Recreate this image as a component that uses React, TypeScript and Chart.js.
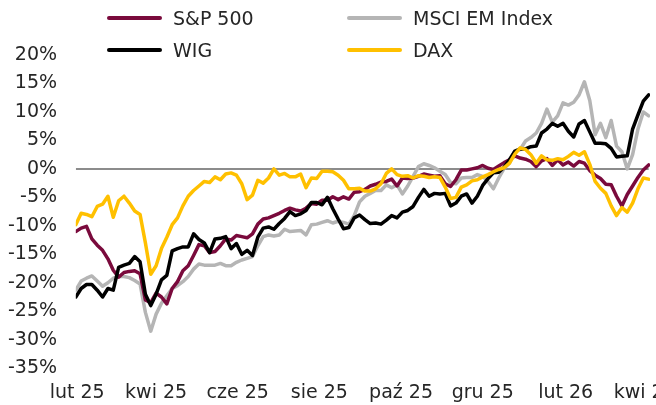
import React, { useEffect, useRef } from 'react';
import { Chart, registerables } from 'chart.js';

Chart.register(...registerables);

// Days since 1 Feb 2025 (sampling of the daily series)
const dayOffsets = [
  -1, 3, 7, 11, 15, 19, 23, 27, 31, 35, 39, 43, 47, 51, 55, 59, 63, 67, 71, 75,
  79, 83, 87, 91, 95, 99, 103, 107, 111, 115, 119, 123, 127, 131, 135, 139, 143, 147, 151, 155,
  159, 163, 167, 171, 175, 179, 183, 187, 191, 195, 199, 203, 207, 211, 215, 219, 223, 227, 231, 235,
  239, 243, 247, 251, 255, 259, 263, 267, 271, 275, 279, 283, 287, 291, 295, 299, 303, 307, 311, 315,
  319, 323, 327, 331, 335, 339, 343, 347, 351, 355, 359, 363, 367, 371, 375, 379, 383, 387, 391, 395,
  399, 403, 407, 411, 415, 419, 423, 427,
];

const sp500 = [
  -11.0, -10.4, -10.1, -12.3, -13.4, -14.3, -15.8, -17.8, -19.0, -18.2,
  -18.0, -17.9, -18.4, -23.0, -23.5, -21.8, -22.5, -23.7, -21.0, -19.8,
  -17.9, -17.0, -15.2, -13.3, -13.5, -14.7, -14.5, -13.5, -12.3, -12.5,
  -11.7, -11.9, -12.1, -11.4, -9.7, -8.8, -8.6, -8.2, -7.8, -7.3,
  -6.9, -7.2, -7.4, -6.9, -6.1, -6.2, -5.5, -5.5, -4.9, -5.4,
  -4.9, -5.3, -4.1, -4.0, -3.6, -3.0, -2.7, -2.3, -2.2, -1.8,
  -3.0, -1.6, -1.7, -1.6, -1.3, -0.9, -1.1, -1.3, -1.2, -2.6,
  -3.1, -1.9, -0.2, -0.2, 0.0, 0.2, 0.6, 0.1, -0.1, 0.5,
  1.1, 1.6, 2.3, 1.9, 1.7, 1.3, 0.4, 1.4, 1.8, 0.6,
  1.6, 0.7, 1.2, 0.5, 1.3, 1.0, -0.3, -1.1, -1.7, -2.7,
  -2.8, -4.8, -6.5, -4.5, -3.0, -1.5, -0.2, 0.7,
];

const msciEm = [
  -21.3, -19.7, -19.2, -18.8, -19.7, -20.6, -20.0, -19.2, -18.9, -18.9,
  -19.1, -19.6, -20.2, -25.2, -28.5, -25.5, -23.6, -22.3, -21.0, -20.5,
  -19.8, -18.9, -17.6, -16.7, -16.9, -16.9, -16.9, -16.6, -17.0, -17.0,
  -16.4, -16.0, -15.7, -15.4, -13.5, -11.9, -11.6, -11.8, -11.6, -10.6,
  -11.0, -10.9, -10.8, -11.6, -9.8, -9.7, -9.4, -9.1, -9.5, -9.2,
  -9.4, -9.7, -8.2, -5.8, -4.8, -4.3, -3.8, -3.8, -2.8, -3.3,
  -2.8, -4.4, -3.0, -1.3, 0.4, 0.9, 0.6, 0.2, -0.4, -1.0,
  -2.4, -2.6, -1.6, -1.5, -1.5, -1.0, -1.3, -2.2, -3.5, -1.6,
  0.1, 1.0, 3.2, 3.4, 4.9, 5.5, 6.3, 8.0, 10.5, 8.2,
  9.3, 11.6, 11.2, 11.7, 13.0, 15.3, 12.0, 6.0, 8.0, 5.5,
  8.5, 4.0, 3.0, 0.0, 2.5, 7.0, 10.0, 9.3,
];

const wig = [
  -22.5, -21.0, -20.3, -20.3, -21.3, -22.5, -21.0, -21.3, -17.3, -16.9,
  -16.6, -15.4, -16.3, -22.0, -24.0, -22.0, -19.5, -18.7, -14.4, -14.0,
  -13.7, -13.7, -11.4, -12.4, -13.0, -14.7, -12.3, -12.2, -11.9, -14.0,
  -13.1, -15.0, -14.3, -15.2, -12.0, -10.4, -10.2, -10.6, -9.6, -8.7,
  -7.5, -8.2, -7.9, -7.3, -5.9, -5.9, -6.3, -5.0, -7.0, -8.8,
  -10.5, -10.3, -8.6, -8.1, -8.9, -9.6, -9.5, -9.7, -9.0, -8.2,
  -8.6, -7.6, -7.3, -6.6, -5.0, -3.6, -4.8, -4.3, -4.4, -4.3,
  -6.5, -6.0, -4.8, -4.4, -6.0, -4.8, -2.9, -1.7, -0.7, -0.6,
  0.3, 1.6, 3.1, 3.5, 3.5, 3.9, 4.0, 6.3, 7.0, 8.0,
  7.5, 8.0, 6.6, 5.6, 7.9, 8.5, 6.5, 4.5, 4.5, 4.4,
  3.6, 2.1, 2.2, 2.3, 7.0, 9.5, 11.9, 13.0,
];

const dax = [
  -9.8, -7.8, -8.0, -8.4, -6.6, -6.2, -4.8, -8.5, -5.6, -4.8,
  -6.0, -7.4, -8.0, -13.0, -18.5, -17.0, -14.0, -12.0, -9.8, -8.6,
  -6.5, -4.8, -3.8, -3.0, -2.2, -2.4, -1.4, -1.9, -0.9, -0.7,
  -1.1, -2.6, -5.4, -4.6, -2.0, -2.5, -1.6, 0.0, -1.1, -0.8,
  -1.4, -1.4, -0.9, -3.3, -1.6, -1.7, -0.4, -0.4, -0.5, -1.1,
  -2.0, -3.5, -3.5, -3.4, -3.9, -3.9, -3.5, -2.6, -0.8, 0.0,
  -1.0, -1.3, -1.2, -1.6, -1.2, -1.3, -1.5, -1.4, -1.5, -3.2,
  -5.2, -5.0, -3.2, -2.8, -2.1, -1.9, -1.4, -1.0, -0.5, -0.1,
  0.2, 1.0, 2.6, 3.7, 3.4, 2.5, 1.0, 2.3, 1.6, 1.5,
  1.8, 1.6, 2.2, 2.9, 2.4, 3.0, 0.8, -2.2, -3.4, -4.3,
  -6.5, -8.2, -6.8, -7.6, -6.0, -3.5, -1.6, -1.8,
];

const tickDays = [0, 59, 120, 181, 242, 303, 365, 424];
const tickLabels = ['lut 25', 'kwi 25', 'cze 25', 'sie 25', 'paź 25', 'gru 25', 'lut 26', 'kwi 26'];

const seriesNames = ['S&P 500', 'MSCI EM Index', 'WIG', 'DAX'];
const seriesColors = ['#7a0a3c', '#b5b5b5', '#000000', '#ffc000'];

const FONT = '"DejaVu Sans", Verdana, sans-serif';
const TEXT = '#262626';

function toPoints(values: number[]) {
  return values.map((v, i) => ({ x: dayOffsets[i], y: v }));
}

export default function App() {
  const canvasRef = useRef<HTMLCanvasElement | null>(null);

  useEffect(() => {
    const canvas = canvasRef.current;
    if (!canvas) return;
    const lineDs = (label: string, values: number[], color: string) => ({
      label,
      data: toPoints(values),
      borderColor: color,
      backgroundColor: color,
      borderWidth: 3.5,
      pointRadius: 0,
      pointHoverRadius: 0,
      tension: 0,
      borderJoinStyle: 'round' as const,
      borderCapStyle: 'round' as const,
      fill: false,
    });
    const first = dayOffsets[0];
    const last = dayOffsets[dayOffsets.length - 1];
    const chart = new Chart(canvas, {
      type: 'line',
      data: {
        datasets: [
          lineDs(seriesNames[3], dax, seriesColors[3]),
          lineDs(seriesNames[2], wig, seriesColors[2]),
          lineDs(seriesNames[0], sp500, seriesColors[0]),
          lineDs(seriesNames[1], msciEm, seriesColors[1]),
          {
            label: 'zero',
            data: [{ x: first, y: 0 }, { x: last, y: 0 }],
            borderColor: '#8c8c8c',
            borderWidth: 2,
            pointRadius: 0,
            tension: 0,
            fill: false,
          },
        ],
      },
      options: {
        animation: false,
        responsive: false,
        maintainAspectRatio: false,
        events: [],
        layout: { padding: { top: 55, left: 8, right: 6, bottom: 1 } },
        plugins: {
          legend: { display: false },
          tooltip: { enabled: false },
        },
        scales: {
          x: {
            type: 'linear',
            min: first,
            max: 428,
            grid: { display: false, drawTicks: false },
            border: { display: false },
            afterBuildTicks: (scale: any) => {
              scale.ticks = tickDays.map((v) => ({ value: v }));
            },
            afterFit: (scale: any) => {
              scale.paddingLeft = 0;
              scale.paddingRight = 0;
              scale.height = 35.8;
            },
            ticks: {
              autoSkip: false,
              maxRotation: 0,
              minRotation: 0,
              padding: 13,
              color: TEXT,
              font: { family: FONT, size: 19 },
              callback: (value: any) => {
                const idx = tickDays.indexOf(Number(value));
                return idx >= 0 ? tickLabels[idx] : '';
              },
            },
          },
          y: {
            type: 'linear',
            min: -35,
            max: 20,
            grid: { display: false, drawTicks: false },
            border: { display: false },
            afterFit: (scale: any) => {
              scale.width = 67.8;
            },
            ticks: {
              stepSize: 5,
              padding: 18.7,
              color: TEXT,
              font: { family: FONT, size: 19 },
              callback: (value: any) => `${value}%`,
            },
          },
        },
      },
    } as any);
    return () => chart.destroy();
  }, []);

  const legendItems = [
    { name: seriesNames[0], color: seriesColors[0], left: 107, top: 18 },
    { name: seriesNames[1], color: seriesColors[1], left: 347, top: 18 },
    { name: seriesNames[2], color: seriesColors[2], left: 107, top: 50 },
    { name: seriesNames[3], color: seriesColors[3], left: 347, top: 50 },
  ];

  return (
    <div style={{ position: 'fixed', left: 0, top: 0, width: 656, height: 405, background: '#fff' }}>
      <canvas ref={canvasRef} width={656} height={405} style={{ position: 'absolute', left: 0, top: 0 }} />
      {legendItems.map((it) => (
        <div
          key={it.name}
          style={{
            position: 'absolute',
            left: it.left,
            top: it.top - 14,
            height: 28,
            display: 'flex',
            alignItems: 'center',
            whiteSpace: 'nowrap',
            fontFamily: FONT,
            fontSize: 19,
            color: TEXT,
          }}
        >
          <span style={{ display: 'inline-block', width: 55, height: 4, borderRadius: 2, background: it.color, marginRight: 11 }} />
          <span>{it.name}</span>
        </div>
      ))}
    </div>
  );
}
